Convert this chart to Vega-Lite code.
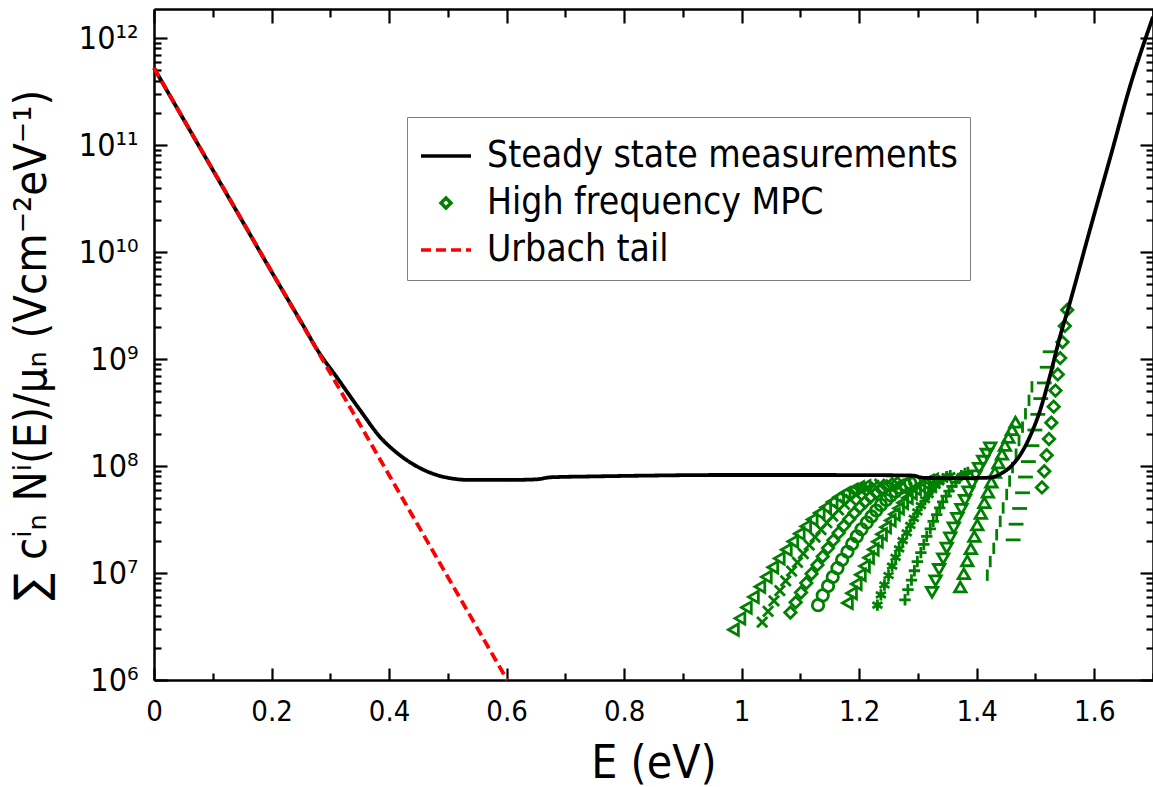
{
  "$schema": "https://vega.github.io/schema/vega-lite/v6.json",
  "width": 999,
  "height": 671,
  "autosize": {"type": "none"},
  "padding": {"left": 154, "top": 9, "right": 0, "bottom": 107},
  "config": {
    "view": {"stroke": null},
    "font": "DejaVu Sans Condensed, DejaVu Sans",
    "axis": {"labelColor": "black", "titleColor": "black", "tickColor": "black", "domainColor": "black", "grid": false, "domainWidth": 2.5, "tickWidth": 2.2, "titleFontWeight": "normal"},
    "legend": {"orient": "none", "legendX": 253, "legendY": 108, "direction": "vertical",
      "fillColor": "white", "strokeColor": "#808080", "padding": 12,
      "labelFontSize": 37, "labelLimit": 800, "labelOffset": 14, "labelColor": "black",
      "symbolSize": 2500, "symbolStrokeWidth": 3.5, "symbolOpacity": 1, "rowPadding": 2}
  },
  "datasets": {
    "steady": [
      {"E": 0, "N": 5.25e11}, {"E": 0.05, "N": 1.75e11}, {"E": 0.1, "N": 5.86e10}, {"E": 0.15, "N": 1.96e10},
      {"E": 0.2, "N": 6.55e9}, {"E": 0.25, "N": 2.24e9}, {"E": 0.28, "N": 1.17e9}, {"E": 0.311, "N": 6.76e8},
      {"E": 0.351, "N": 3.31e8}, {"E": 0.385, "N": 1.86e8}, {"E": 0.414, "N": 1.32e8}, {"E": 0.453, "N": 9.55e7},
      {"E": 0.492, "N": 7.94e7}, {"E": 0.538, "N": 7.41e7}, {"E": 0.6, "N": 7.41e7}, {"E": 0.65, "N": 7.5e7},
      {"E": 0.675, "N": 7.85e7}, {"E": 0.75, "N": 8.0e7}, {"E": 0.85, "N": 8.15e7}, {"E": 0.95, "N": 8.24e7},
      {"E": 1.05, "N": 8.24e7}, {"E": 1.15, "N": 8.24e7}, {"E": 1.25, "N": 8.2e7}, {"E": 1.29, "N": 8.15e7},
      {"E": 1.31, "N": 7.75e7}, {"E": 1.36, "N": 7.7e7}, {"E": 1.4, "N": 7.73e7}, {"E": 1.423, "N": 7.8e7},
      {"E": 1.44, "N": 8.41e7}, {"E": 1.457, "N": 9.79e7}, {"E": 1.474, "N": 1.27e8}, {"E": 1.491, "N": 1.91e8},
      {"E": 1.508, "N": 3.33e8}, {"E": 1.525, "N": 7.08e8}, {"E": 1.542, "N": 1.64e9}, {"E": 1.556, "N": 3.0e9},
      {"E": 1.593, "N": 1.64e10}, {"E": 1.627, "N": 7.57e10}, {"E": 1.661, "N": 3.56e11}, {"E": 1.7, "N": 1.58e12}
    ],
    "urbach": [
      {"E": 0, "N": 5.25e11}, {"E": 0.3, "N": 7.4e8}, {"E": 0.601, "N": 1.0e6}
    ],
    "mpc": [
      {"curve": "M1", "E": 0.986, "N": 2.95e6}, {"curve": "M1", "E": 0.997, "N": 3.77e6}, {"curve": "M1", "E": 1.008, "N": 4.76e6}, {"curve": "M1", "E": 1.02, "N": 5.98e6}, {"curve": "M1", "E": 1.031, "N": 7.45e6}, {"curve": "M1", "E": 1.042, "N": 9.2e6}, {"curve": "M1", "E": 1.053, "N": 1.13e7}, {"curve": "M1", "E": 1.064, "N": 1.37e7}, {"curve": "M1", "E": 1.076, "N": 1.65e7}, {"curve": "M1", "E": 1.087, "N": 1.97e7}, {"curve": "M1", "E": 1.098, "N": 2.33e7}, {"curve": "M1", "E": 1.109, "N": 2.73e7}, {"curve": "M1", "E": 1.12, "N": 3.16e7}, {"curve": "M1", "E": 1.132, "N": 3.64e7}, {"curve": "M1", "E": 1.143, "N": 4.11e7}, {"curve": "M1", "E": 1.154, "N": 4.61e7}, {"curve": "M1", "E": 1.165, "N": 5.11e7}, {"curve": "M1", "E": 1.176, "N": 5.57e7}, {"curve": "M1", "E": 1.188, "N": 5.98e7}, {"curve": "M1", "E": 1.199, "N": 6.3e7}, {"curve": "M1", "E": 1.21, "N": 6.46e7},
      {"curve": "M2", "E": 1.035, "N": 3.47e6}, {"curve": "M2", "E": 1.045, "N": 4.39e6}, {"curve": "M2", "E": 1.055, "N": 5.5e6}, {"curve": "M2", "E": 1.065, "N": 6.84e6}, {"curve": "M2", "E": 1.075, "N": 8.45e6}, {"curve": "M2", "E": 1.085, "N": 1.04e7}, {"curve": "M2", "E": 1.095, "N": 1.26e7}, {"curve": "M2", "E": 1.105, "N": 1.52e7}, {"curve": "M2", "E": 1.115, "N": 1.82e7}, {"curve": "M2", "E": 1.125, "N": 2.16e7}, {"curve": "M2", "E": 1.135, "N": 2.54e7}, {"curve": "M2", "E": 1.145, "N": 2.95e7}, {"curve": "M2", "E": 1.155, "N": 3.4e7}, {"curve": "M2", "E": 1.165, "N": 3.89e7}, {"curve": "M2", "E": 1.175, "N": 4.39e7}, {"curve": "M2", "E": 1.185, "N": 4.89e7}, {"curve": "M2", "E": 1.195, "N": 5.4e7}, {"curve": "M2", "E": 1.205, "N": 5.86e7}, {"curve": "M2", "E": 1.215, "N": 6.28e7}, {"curve": "M2", "E": 1.225, "N": 6.61e7}, {"curve": "M2", "E": 1.235, "N": 6.76e7},
      {"curve": "M3", "E": 1.083, "N": 4.27e6}, {"curve": "M3", "E": 1.092, "N": 5.32e6}, {"curve": "M3", "E": 1.101, "N": 6.58e6}, {"curve": "M3", "E": 1.11, "N": 8.07e6}, {"curve": "M3", "E": 1.119, "N": 9.84e6}, {"curve": "M3", "E": 1.129, "N": 1.19e7}, {"curve": "M3", "E": 1.138, "N": 1.43e7}, {"curve": "M3", "E": 1.147, "N": 1.71e7}, {"curve": "M3", "E": 1.156, "N": 2.02e7}, {"curve": "M3", "E": 1.165, "N": 2.37e7}, {"curve": "M3", "E": 1.174, "N": 2.76e7}, {"curve": "M3", "E": 1.183, "N": 3.18e7}, {"curve": "M3", "E": 1.192, "N": 3.63e7}, {"curve": "M3", "E": 1.201, "N": 4.12e7}, {"curve": "M3", "E": 1.21, "N": 4.6e7}, {"curve": "M3", "E": 1.219, "N": 5.11e7}, {"curve": "M3", "E": 1.229, "N": 5.6e7}, {"curve": "M3", "E": 1.238, "N": 6.05e7}, {"curve": "M3", "E": 1.247, "N": 6.46e7}, {"curve": "M3", "E": 1.256, "N": 6.76e7}, {"curve": "M3", "E": 1.265, "N": 6.92e7},
      {"curve": "M4", "E": 1.13, "N": 5.01e6}, {"curve": "M4", "E": 1.138, "N": 6.18e6}, {"curve": "M4", "E": 1.147, "N": 7.55e6}, {"curve": "M4", "E": 1.155, "N": 9.18e6}, {"curve": "M4", "E": 1.163, "N": 1.11e7}, {"curve": "M4", "E": 1.171, "N": 1.33e7}, {"curve": "M4", "E": 1.18, "N": 1.58e7}, {"curve": "M4", "E": 1.188, "N": 1.87e7}, {"curve": "M4", "E": 1.196, "N": 2.2e7}, {"curve": "M4", "E": 1.204, "N": 2.56e7}, {"curve": "M4", "E": 1.213, "N": 2.96e7}, {"curve": "M4", "E": 1.221, "N": 3.38e7}, {"curve": "M4", "E": 1.229, "N": 3.84e7}, {"curve": "M4", "E": 1.237, "N": 4.33e7}, {"curve": "M4", "E": 1.246, "N": 4.81e7}, {"curve": "M4", "E": 1.254, "N": 5.31e7}, {"curve": "M4", "E": 1.262, "N": 5.79e7}, {"curve": "M4", "E": 1.27, "N": 6.24e7}, {"curve": "M4", "E": 1.279, "N": 6.62e7}, {"curve": "M4", "E": 1.287, "N": 6.93e7}, {"curve": "M4", "E": 1.295, "N": 7.08e7},
      {"curve": "M5", "E": 1.18, "N": 5.25e6}, {"curve": "M5", "E": 1.187, "N": 6.47e6}, {"curve": "M5", "E": 1.195, "N": 7.91e6}, {"curve": "M5", "E": 1.202, "N": 9.62e6}, {"curve": "M5", "E": 1.209, "N": 1.16e7}, {"curve": "M5", "E": 1.216, "N": 1.39e7}, {"curve": "M5", "E": 1.224, "N": 1.66e7}, {"curve": "M5", "E": 1.231, "N": 1.96e7}, {"curve": "M5", "E": 1.238, "N": 2.3e7}, {"curve": "M5", "E": 1.245, "N": 2.68e7}, {"curve": "M5", "E": 1.253, "N": 3.1e7}, {"curve": "M5", "E": 1.26, "N": 3.54e7}, {"curve": "M5", "E": 1.267, "N": 4.02e7}, {"curve": "M5", "E": 1.274, "N": 4.53e7}, {"curve": "M5", "E": 1.282, "N": 5.04e7}, {"curve": "M5", "E": 1.289, "N": 5.56e7}, {"curve": "M5", "E": 1.296, "N": 6.07e7}, {"curve": "M5", "E": 1.303, "N": 6.53e7}, {"curve": "M5", "E": 1.311, "N": 6.93e7}, {"curve": "M5", "E": 1.318, "N": 7.26e7}, {"curve": "M5", "E": 1.325, "N": 7.41e7},
      {"curve": "M6", "E": 1.231, "N": 5.01e6}, {"curve": "M6", "E": 1.237, "N": 6.25e6}, {"curve": "M6", "E": 1.243, "N": 7.73e6}, {"curve": "M6", "E": 1.25, "N": 9.48e6}, {"curve": "M6", "E": 1.256, "N": 1.16e7}, {"curve": "M6", "E": 1.262, "N": 1.4e7}, {"curve": "M6", "E": 1.268, "N": 1.68e7}, {"curve": "M6", "E": 1.274, "N": 2.01e7}, {"curve": "M6", "E": 1.281, "N": 2.37e7}, {"curve": "M6", "E": 1.287, "N": 2.79e7}, {"curve": "M6", "E": 1.293, "N": 3.24e7}, {"curve": "M6", "E": 1.299, "N": 3.73e7}, {"curve": "M6", "E": 1.305, "N": 4.27e7}, {"curve": "M6", "E": 1.312, "N": 4.84e7}, {"curve": "M6", "E": 1.318, "N": 5.41e7}, {"curve": "M6", "E": 1.324, "N": 6.0e7}, {"curve": "M6", "E": 1.33, "N": 6.58e7}, {"curve": "M6", "E": 1.336, "N": 7.11e7}, {"curve": "M6", "E": 1.343, "N": 7.59e7}, {"curve": "M6", "E": 1.349, "N": 7.94e7}, {"curve": "M6", "E": 1.355, "N": 8.13e7},
      {"curve": "M7", "E": 1.278, "N": 5.62e6}, {"curve": "M7", "E": 1.283, "N": 6.98e6}, {"curve": "M7", "E": 1.289, "N": 8.59e6}, {"curve": "M7", "E": 1.294, "N": 1.05e7}, {"curve": "M7", "E": 1.299, "N": 1.28e7}, {"curve": "M7", "E": 1.305, "N": 1.55e7}, {"curve": "M7", "E": 1.31, "N": 1.85e7}, {"curve": "M7", "E": 1.315, "N": 2.2e7}, {"curve": "M7", "E": 1.321, "N": 2.59e7}, {"curve": "M7", "E": 1.326, "N": 3.04e7}, {"curve": "M7", "E": 1.332, "N": 3.52e7}, {"curve": "M7", "E": 1.337, "N": 4.06e7}, {"curve": "M7", "E": 1.342, "N": 4.62e7}, {"curve": "M7", "E": 1.348, "N": 5.24e7}, {"curve": "M7", "E": 1.353, "N": 5.83e7}, {"curve": "M7", "E": 1.358, "N": 6.46e7}, {"curve": "M7", "E": 1.364, "N": 7.08e7}, {"curve": "M7", "E": 1.369, "N": 7.64e7}, {"curve": "M7", "E": 1.374, "N": 8.13e7}, {"curve": "M7", "E": 1.38, "N": 8.51e7}, {"curve": "M7", "E": 1.385, "N": 8.71e7},
      {"curve": "M8", "E": 1.324, "N": 6.61e6}, {"curve": "M8", "E": 1.33, "N": 8.47e6}, {"curve": "M8", "E": 1.336, "N": 1.08e7}, {"curve": "M8", "E": 1.343, "N": 1.36e7}, {"curve": "M8", "E": 1.349, "N": 1.71e7}, {"curve": "M8", "E": 1.355, "N": 2.13e7}, {"curve": "M8", "E": 1.361, "N": 2.64e7}, {"curve": "M8", "E": 1.367, "N": 3.24e7}, {"curve": "M8", "E": 1.374, "N": 3.94e7}, {"curve": "M8", "E": 1.38, "N": 4.78e7}, {"curve": "M8", "E": 1.386, "N": 5.74e7}, {"curve": "M8", "E": 1.392, "N": 6.84e7}, {"curve": "M8", "E": 1.398, "N": 8.11e7}, {"curve": "M8", "E": 1.404, "N": 9.53e7}, {"curve": "M8", "E": 1.411, "N": 1.11e8}, {"curve": "M8", "E": 1.417, "N": 1.29e8}, {"curve": "M8", "E": 1.423, "N": 1.48e8},
      {"curve": "M9", "E": 1.372, "N": 7.41e6}, {"curve": "M9", "E": 1.378, "N": 9.84e6}, {"curve": "M9", "E": 1.384, "N": 1.3e7}, {"curve": "M9", "E": 1.39, "N": 1.69e7}, {"curve": "M9", "E": 1.396, "N": 2.2e7}, {"curve": "M9", "E": 1.401, "N": 2.82e7}, {"curve": "M9", "E": 1.407, "N": 3.6e7}, {"curve": "M9", "E": 1.413, "N": 4.54e7}, {"curve": "M9", "E": 1.419, "N": 5.7e7}, {"curve": "M9", "E": 1.425, "N": 7.08e7}, {"curve": "M9", "E": 1.431, "N": 8.73e7}, {"curve": "M9", "E": 1.437, "N": 1.07e8}, {"curve": "M9", "E": 1.443, "N": 1.29e8}, {"curve": "M9", "E": 1.448, "N": 1.56e8}, {"curve": "M9", "E": 1.454, "N": 1.85e8}, {"curve": "M9", "E": 1.46, "N": 2.19e8}, {"curve": "M9", "E": 1.466, "N": 2.57e8},
      {"curve": "M10", "E": 1.418, "N": 9.55e6}, {"curve": "M10", "E": 1.423, "N": 1.28e7}, {"curve": "M10", "E": 1.429, "N": 1.7e7}, {"curve": "M10", "E": 1.434, "N": 2.28e7}, {"curve": "M10", "E": 1.44, "N": 3.04e7}, {"curve": "M10", "E": 1.445, "N": 4.06e7}, {"curve": "M10", "E": 1.451, "N": 5.42e7}, {"curve": "M10", "E": 1.456, "N": 7.24e7}, {"curve": "M10", "E": 1.461, "N": 9.68e7}, {"curve": "M10", "E": 1.467, "N": 1.29e8}, {"curve": "M10", "E": 1.472, "N": 1.73e8}, {"curve": "M10", "E": 1.478, "N": 2.31e8}, {"curve": "M10", "E": 1.483, "N": 3.08e8}, {"curve": "M10", "E": 1.489, "N": 4.11e8}, {"curve": "M10", "E": 1.494, "N": 5.5e8},
      {"curve": "M11", "E": 1.462, "N": 2.04e7}, {"curve": "M11", "E": 1.467, "N": 2.86e7}, {"curve": "M11", "E": 1.473, "N": 4.01e7}, {"curve": "M11", "E": 1.478, "N": 5.62e7}, {"curve": "M11", "E": 1.483, "N": 7.89e7}, {"curve": "M11", "E": 1.488, "N": 1.1e8}, {"curve": "M11", "E": 1.494, "N": 1.55e8}, {"curve": "M11", "E": 1.499, "N": 2.17e8}, {"curve": "M11", "E": 1.504, "N": 3.04e8}, {"curve": "M11", "E": 1.509, "N": 4.27e8}, {"curve": "M11", "E": 1.515, "N": 5.98e8}, {"curve": "M11", "E": 1.52, "N": 8.38e8}, {"curve": "M11", "E": 1.525, "N": 1.17e9},
      {"curve": "M12", "E": 1.511, "N": 6.31e7}, {"curve": "M12", "E": 1.515, "N": 8.93e7}, {"curve": "M12", "E": 1.519, "N": 1.26e8}, {"curve": "M12", "E": 1.523, "N": 1.79e8}, {"curve": "M12", "E": 1.527, "N": 2.54e8}, {"curve": "M12", "E": 1.531, "N": 3.59e8}, {"curve": "M12", "E": 1.534, "N": 5.07e8}, {"curve": "M12", "E": 1.538, "N": 7.18e8}, {"curve": "M12", "E": 1.542, "N": 1.02e9}, {"curve": "M12", "E": 1.546, "N": 1.44e9}, {"curve": "M12", "E": 1.55, "N": 2.04e9}, {"curve": "M12", "E": 1.554, "N": 2.88e9}
    ]
  },
  "layer": [
    {
      "data": {"name": "mpc"},
      "mark": {"type": "point", "filled": false, "size": 130, "strokeWidth": 2.8, "opacity": 1},
      "encoding": {
        "x": {"field": "E", "type": "quantitative", "scale": {"domain": [0, 1.7], "nice": false, "zero": false},
          "axis": {"orient": "top", "values": [0, 0.1, 0.2, 0.3, 0.4, 0.5, 0.6, 0.7, 0.8, 0.9, 1, 1.1, 1.2, 1.3, 1.4, 1.5, 1.6, 1.7], "labels": false, "title": null,
            "tickSize": {"condition": {"test": "abs(datum.value*5-round(datum.value*5))<0.01", "value": -14}, "value": -8}}},
        "y": {"field": "N", "type": "quantitative", "scale": {"type": "log", "domain": [1e6, 1.87e12], "nice": false},
          "axis": {"orient": "right", "labels": false, "title": null,
            "values": [1e6,2e6,3e6,4e6,5e6,6e6,7e6,8e6,9e6,1e7,2e7,3e7,4e7,5e7,6e7,7e7,8e7,9e7,1e8,2e8,3e8,4e8,5e8,6e8,7e8,8e8,9e8,1e9,2e9,3e9,4e9,5e9,6e9,7e9,8e9,9e9,1e10,2e10,3e10,4e10,5e10,6e10,7e10,8e10,9e10,1e11,2e11,3e11,4e11,5e11,6e11,7e11,8e11,9e11,1e12],
            "tickSize": {"condition": {"test": "abs(log(datum.value)/LN10-round(log(datum.value)/LN10))<0.01", "value": -13}, "value": -7}}},
        "color": {"field": "curve", "type": "nominal",
          "scale": {"domain": ["Steady state measurements", "High frequency MPC", "Urbach tail", "M1","M2","M3","M4","M5","M6","M7","M8","M9","M10","M11","M12"],
            "range": ["#000000", "#008000", "#ff0000", "#008000", "#008000", "#008000", "#008000", "#008000", "#008000", "#008000", "#008000", "#008000", "#008000", "#008000", "#008000"]},
          "legend": {"title": null, "values": ["Steady state measurements", "High frequency MPC", "Urbach tail"]}},
        "shape": {"field": "curve", "type": "nominal",
          "scale": {"domain": ["Steady state measurements", "High frequency MPC", "Urbach tail", "M1","M2","M3","M4","M5","M6","M7","M8","M9","M10","M11","M12"],
            "range": ["stroke", "M0,-0.2L0.2,0L0,0.2L-0.2,0Z", "stroke", "triangle-left", "M-0.9,-0.9L0.9,0.9M-0.9,0.9L0.9,-0.9", "diamond", "circle", "triangle-left", "M0,-1L0,1M-0.87,-0.5L0.87,0.5M-0.87,0.5L0.87,-0.5", "M0,-1L0,1M-1,0L1,0", "triangle-down", "triangle-up", "M0,-1L0,1", "M-1.3,0L1.3,0", "diamond"]},
          "legend": {"title": null, "values": ["Steady state measurements", "High frequency MPC", "Urbach tail"]}}
      }
    },
    {
      "data": {"name": "steady"},
      "mark": {"type": "line", "strokeWidth": 3.8, "interpolate": "monotone"},
      "encoding": {
        "x": {"field": "E", "type": "quantitative", "scale": {"domain": [0, 1.7], "nice": false, "zero": false},
          "axis": {"orient": "bottom", "values": [0, 0.1, 0.2, 0.3, 0.4, 0.5, 0.6, 0.7, 0.8, 0.9, 1, 1.1, 1.2, 1.3, 1.4, 1.5, 1.6, 1.7],
            "labelExpr": "abs(datum.value*5-round(datum.value*5))<0.01 ? format(datum.value,'~g') : ''",
            "labelOverlap": false, "labelFlush": false, "labelFontSize": 29, "labelPadding": 29,
            "tickSize": {"condition": {"test": "abs(datum.value*5-round(datum.value*5))<0.01", "value": -12}, "value": -7},
            "title": "E (eV)", "titleFontSize": 46, "titlePadding": 10}},
        "y": {"field": "N", "type": "quantitative", "scale": {"type": "log", "domain": [1e6, 1.87e12], "nice": false},
          "axis": {"orient": "left",
            "values": [1e6,2e6,3e6,4e6,5e6,6e6,7e6,8e6,9e6,1e7,2e7,3e7,4e7,5e7,6e7,7e7,8e7,9e7,1e8,2e8,3e8,4e8,5e8,6e8,7e8,8e8,9e8,1e9,2e9,3e9,4e9,5e9,6e9,7e9,8e9,9e9,1e10,2e10,3e10,4e10,5e10,6e10,7e10,8e10,9e10,1e11,2e11,3e11,4e11,5e11,6e11,7e11,8e11,9e11,1e12],
            "labelExpr": "abs(log(datum.value)/LN10-round(log(datum.value)/LN10))<0.01 ? ['10⁶','10⁷','10⁸','10⁹','10¹⁰','10¹¹','10¹²'][round(log(datum.value)/LN10)-6] : ''",
            "labelOverlap": false, "labelFontSize": 32, "labelPadding": 29,
            "tickSize": {"condition": {"test": "abs(log(datum.value)/LN10-round(log(datum.value)/LN10))<0.01", "value": -13}, "value": -7},
            "title": "∑ cⁱₙ Nⁱ(E)/μₙ (Vcm⁻²eV⁻¹)", "titleFontSize": 45, "titlePadding": 24}},
        "color": {"datum": "Steady state measurements", "type": "nominal",
          "legend": {"title": null, "values": ["Steady state measurements", "High frequency MPC", "Urbach tail"]}},
        "strokeDash": {"datum": "Steady state measurements", "type": "nominal",
          "scale": {"domain": ["Steady state measurements", "High frequency MPC", "Urbach tail", "M1","M2","M3","M4","M5","M6","M7","M8","M9","M10","M11","M12"],
            "range": [[1, 0], [1, 0], [10, 5], [1, 0], [1, 0], [1, 0], [1, 0], [1, 0], [1, 0], [1, 0], [1, 0], [1, 0], [1, 0], [1, 0], [1, 0]]},
          "legend": {"title": null, "values": ["Steady state measurements", "High frequency MPC", "Urbach tail"]}}
      }
    },
    {
      "data": {"name": "urbach"},
      "mark": {"type": "line", "strokeWidth": 3.8},
      "encoding": {
        "x": {"field": "E", "type": "quantitative", "scale": {"domain": [0, 1.7], "nice": false, "zero": false}, "axis": null},
        "y": {"field": "N", "type": "quantitative", "scale": {"type": "log", "domain": [1e6, 1.87e12], "nice": false}, "axis": null},
        "color": {"datum": "Urbach tail", "type": "nominal",
          "legend": {"title": null, "values": ["Steady state measurements", "High frequency MPC", "Urbach tail"]}},
        "strokeDash": {"datum": "Urbach tail", "type": "nominal",
          "legend": {"title": null, "values": ["Steady state measurements", "High frequency MPC", "Urbach tail"]}}
      }
    }
  ],
  "resolve": {"axis": {"x": "independent", "y": "independent"}}
}
